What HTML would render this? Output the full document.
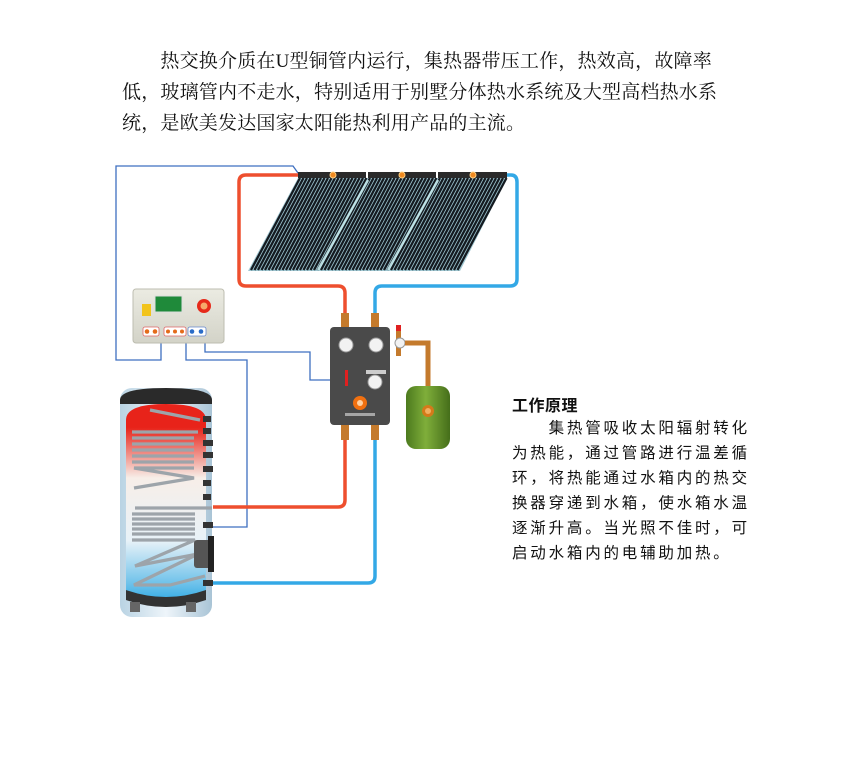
<!DOCTYPE html>
<html><head><meta charset="utf-8"><style>
html,body{margin:0;padding:0;background:#fff;width:850px;height:761px;overflow:hidden;position:relative}
.top{position:absolute;left:122px;top:46px;white-space:nowrap;font-family:"Liberation Serif","Noto Serif CJK SC",serif;font-size:19px;line-height:31px;letter-spacing:0.2px;color:#111}
.rt{position:absolute;left:512px;top:394px;white-space:nowrap;font-family:"Liberation Sans","Noto Sans CJK SC",sans-serif;font-size:15.5px;line-height:25px;letter-spacing:2.8px;color:#111}
.rt b{font-size:16px;letter-spacing:0.5px;display:block;margin-bottom:-3px}
svg{position:absolute;left:0;top:0}
</style></head><body>
<svg width="850" height="761" viewBox="0 0 850 761">
<defs>
<linearGradient id="tank" x1="0" x2="1"><stop offset="0" stop-color="#b9d3e3"/><stop offset=".5" stop-color="#eef5fa"/><stop offset="1" stop-color="#a9c4d6"/></linearGradient>
<linearGradient id="inner" x1="0" y1="0" x2="0" y2="1"><stop offset="0" stop-color="#e8231a"/><stop offset=".12" stop-color="#e8231a"/><stop offset=".38" stop-color="#f7eee8"/><stop offset=".7" stop-color="#e8f2f8"/><stop offset=".92" stop-color="#6fc2ea"/><stop offset="1" stop-color="#3aaee6"/></linearGradient>
<linearGradient id="grn" x1="0" x2="1"><stop offset="0" stop-color="#4c7a1e"/><stop offset=".45" stop-color="#7fae3a"/><stop offset="1" stop-color="#456e1a"/></linearGradient>
<linearGradient id="ctl" x1="0" y1="0" x2="0" y2="1"><stop offset="0" stop-color="#ebebe2"/><stop offset="1" stop-color="#d3d3c8"/></linearGradient>
</defs>
<g fill="none" stroke="#3e6fc0" stroke-width="1.3">
<path d="M161 343 V360 H116 V166 H293 L298 173"/>
<path d="M186 343 V360 H247 V527 H213"/>
<path d="M205 343 V352 H310 V380 H330"/>
</g>
<g fill="none" stroke-width="3.5" stroke-linejoin="round">
<path d="M298 175 H246 Q239 175 239 182 V279 Q239 286 246 286 H338 Q345 286 345 293 V315" stroke="#ee4f2e"/>
<path d="M345 440 V500 Q345 507 338 507 H213" stroke="#ee4f2e"/>
<path d="M507 175 H511 Q517 175 517 182 V279 Q517 286 510 286 H382 Q375 286 375 293 V315" stroke="#33a8e6"/>
<path d="M375 440 V576 Q375 583 368 583 H213" stroke="#33a8e6"/>
</g>
<polygon points="298,178 507,178 460,271 248,271" fill="#9fc7d2"/>
<g id="tubes" stroke="#141a20" stroke-width="2.3"></g>
<g stroke="#c8eef2" stroke-width="2.5" opacity=".9"><line x1="368" y1="180" x2="318" y2="270"/><line x1="438" y1="180" x2="388" y2="270"/></g>
<g fill="#2a2a2a"><rect x="298" y="172" width="68" height="6"/><rect x="368" y="172" width="68" height="6"/><rect x="438" y="172" width="69" height="6"/></g>
<g fill="#f08a20" stroke="#ffd080" stroke-width="1"><circle cx="333" cy="175" r="3"/><circle cx="402" cy="175" r="3"/><circle cx="473" cy="175" r="3"/></g>
<rect x="133" y="289" width="91" height="54" rx="3" fill="url(#ctl)" stroke="#bdbdb0"/>
<rect x="155" y="296" width="27" height="16" fill="#1f8a3a" stroke="#ddd"/>
<rect x="142" y="304" width="9" height="12" fill="#f2c41c"/>
<circle cx="204" cy="306" r="7" fill="#e62a1a"/><circle cx="204" cy="306" r="3.5" fill="#f6a86a"/>
<g fill="#fff" stroke="#d66" stroke-width=".8"><rect x="143" y="327" width="16" height="9" rx="2"/><rect x="164" y="327" width="22" height="9" rx="2"/></g>
<rect x="188" y="327" width="18" height="9" rx="2" fill="#fff" stroke="#68c" stroke-width=".8"/>
<g fill="#e46b1a"><circle cx="147" cy="331.5" r="2.3"/><circle cx="155" cy="331.5" r="2.3"/><circle cx="168" cy="331.5" r="2"/><circle cx="175" cy="331.5" r="2"/><circle cx="182" cy="331.5" r="2"/></g>
<g fill="#2a6cc8"><circle cx="192" cy="331.5" r="2.3"/><circle cx="201" cy="331.5" r="2.3"/></g>
<g fill="#c47a2c"><rect x="341" y="313" width="8" height="15"/><rect x="371" y="313" width="8" height="15"/><rect x="341" y="424" width="8" height="16"/><rect x="371" y="424" width="8" height="16"/></g>
<rect x="330" y="327" width="60" height="98" rx="4" fill="#4a4a4a"/>
<g fill="#f2f2f2" stroke="#999"><circle cx="346" cy="345" r="7"/><circle cx="376" cy="345" r="7"/><circle cx="375" cy="382" r="7"/></g>
<rect x="366" y="370" width="20" height="4" fill="#ccc"/>
<rect x="345" y="370" width="3" height="16" fill="#e02020"/>
<circle cx="360" cy="403" r="7" fill="#f07010"/><circle cx="360" cy="403" r="3" fill="#ffd0a0"/>
<rect x="345" y="413" width="30" height="3" fill="#ccc" opacity=".7"/>
<rect x="396" y="326" width="5" height="30" fill="#c47a2c"/><rect x="396" y="325" width="5" height="6" fill="#e02020"/>
<circle cx="400" cy="343" r="5" fill="#f2f2f2" stroke="#999"/>
<path d="M405 343 H428 V387" fill="none" stroke="#c47a2c" stroke-width="5"/>
<rect x="406" y="386" width="44" height="63" rx="10" fill="url(#grn)"/>
<circle cx="428" cy="411" r="6" fill="#d47a1a"/><circle cx="428" cy="411" r="3" fill="#f0b060"/>
<rect x="120" y="388" width="92" height="229" rx="12" fill="url(#tank)"/>
<path d="M120 400 Q120 388 166 388 Q212 388 212 400 V404 H120Z" fill="#2a2a2a"/>
<path d="M126 420 Q126 404 166 404 Q206 404 206 420 V592 Q166 606 126 592Z" fill="url(#inner)"/>
<path d="M126 590 Q166 604 206 590 V600 Q166 614 126 600Z" fill="#333"/>
<g fill="none" stroke="#9da4aa" stroke-width="3.2">
<path d="M150 410 L200 420"/>
<path d="M198 432 H132 M132 438 H194 M194 444 H132 M132 450 H194 M194 456 H132 M132 462 H194 M194 468 H134 L194 478 L134 488"/>
<path d="M135 508 H212 M195 514 H132 M132 519 H195 M195 524 H132 M132 529 H195 M195 534 H132 M132 540 H195 L135 566 L198 554 L134 585 H170 L205 576"/>
</g>
<g fill="#333"><rect x="203" y="416" width="8" height="6"/><rect x="203" y="428" width="8" height="6"/><rect x="203" y="440" width="10" height="6"/><rect x="203" y="452" width="10" height="6"/><rect x="203" y="466" width="10" height="6"/><rect x="203" y="480" width="8" height="6"/><rect x="203" y="494" width="8" height="6"/><rect x="203" y="522" width="10" height="6"/><rect x="203" y="580" width="10" height="6"/></g>
<rect x="194" y="540" width="18" height="28" rx="3" fill="#555"/><rect x="208" y="536" width="6" height="36" fill="#222"/>
<g fill="#666"><rect x="130" y="602" width="10" height="10"/><rect x="186" y="602" width="10" height="10"/></g>
</svg>
<div class="top">　　热交换介质在U型铜管内运行，集热器带压工作，热效高，故障率<br>低，玻璃管内不走水，特别适用于别墅分体热水系统及大型高档热水系<br>统，是欧美发达国家太阳能热利用产品的主流。</div>
<div class="rt"><b>工作原理</b>　　集热管吸收太阳辐射转化<br>为热能，通过管路进行温差循<br>环，将热能通过水箱内的热交<br>换器穿递到水箱，使水箱水温<br>逐渐升高。当光照不佳时，可<br>启动水箱内的电辅助加热。</div>
<script>
var g=document.getElementById('tubes'),s='';
for(var x=300;x<507;x+=3.5){s+='<line x1="'+x+'" y1="178" x2="'+(x-49)+'" y2="270"/>';}
g.innerHTML=s;
</script>
</body></html>
